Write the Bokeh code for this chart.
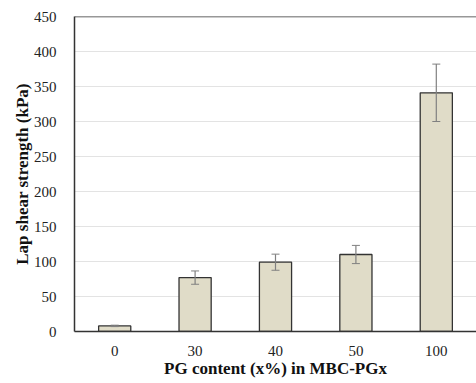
from bokeh.plotting import figure
from bokeh.models import ColumnDataSource, Whisker, FixedTicker, Range1d, Span, FactorRange
from bokeh.embed import file_html
from bokeh.resources import INLINE

categories = ["0", "30", "40", "50", "100"]
strength = [8, 77, 99, 110, 341]
err = [1, 9.5, 11.5, 13, 41]
y_ticks = [0, 50, 100, 150, 200, 250, 300, 350, 400, 450]

upper = [v + e for v, e in zip(strength, err)]
lower = [v - e for v, e in zip(strength, err)]
src = ColumnDataSource(dict(x=categories, top=strength, upper=upper, lower=lower))

p = figure(x_range=FactorRange(*categories, range_padding=0), y_range=Range1d(0, 450),
           width=476, height=383, output_backend="svg", toolbar_location=None,
           min_border_left=74, min_border_top=16, min_border_right=0, min_border_bottom=52)
p.outline_line_color = None
p.background_fill_color = "white"
p.border_fill_color = "white"
p.xgrid.visible = False

p.vbar(x="x", top="top", width=0.4, source=src, fill_color="#e0dcc8",
       line_color="#333333", line_width=1.3)
w = Whisker(base="x", upper="upper", lower="lower", source=src,
            line_color="#808080", line_width=1.2, level="overlay")
w.upper_head.line_color = "#808080"
w.lower_head.line_color = "#808080"
w.upper_head.size = 8
w.lower_head.size = 8
p.add_layout(w)

p.add_layout(Span(location=450, dimension="width", line_color="#333333", line_width=1.5))

p.ygrid.grid_line_color = "#e3e3e3"
p.ygrid.grid_line_width = 1
p.yaxis.ticker = FixedTicker(ticks=y_ticks)

for ax in (p.xaxis[0], p.yaxis[0]):
    ax.axis_line_color = "#333333"
    ax.axis_line_width = 1.5
    ax.major_tick_line_color = None
    ax.minor_tick_line_color = None
    ax.major_label_text_font = "Liberation Serif"
    ax.major_label_text_font_size = "15px"
    ax.major_label_text_color = "#222222"
    ax.axis_label_text_font = "Liberation Serif"
    ax.axis_label_text_font_style = "bold"
    ax.axis_label_text_font_size = "17px"
    ax.axis_label_text_color = "#111111"

p.yaxis.axis_label = "Lap shear strength (kPa)"
p.xaxis.axis_label = "PG content (x%) in MBC-PGx"
p.yaxis.major_label_standoff = 12
p.xaxis.major_label_standoff = 8
p.xaxis.axis_label_standoff = 0
p.yaxis.axis_label_standoff = -1

open("out.html", "w").write(file_html(p, INLINE))
